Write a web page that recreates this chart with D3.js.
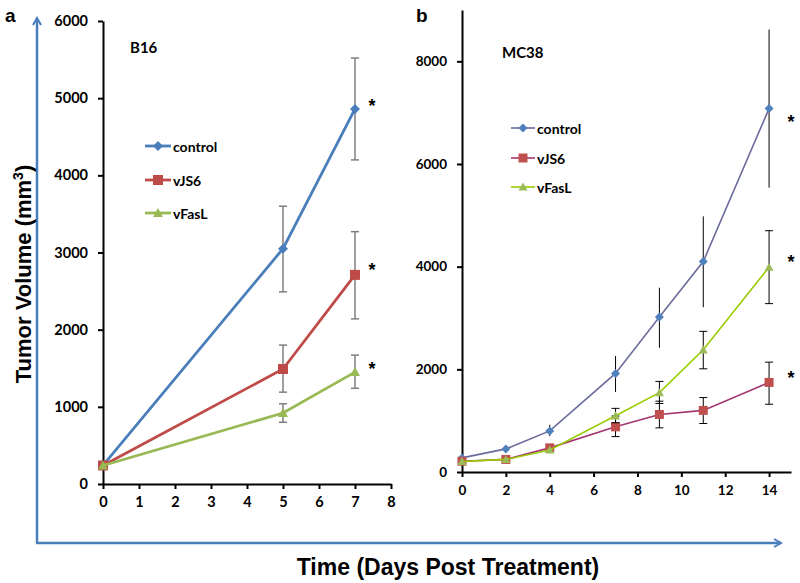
<!DOCTYPE html>
<html>
<head>
<meta charset="utf-8">
<script src="https://cdn.jsdelivr.net/npm/d3@7"></script>
<style>
  body { margin: 0; background: #fff; }
  svg { display: block; }
</style>
</head>
<body>
<svg id="chart"></svg>
<script>
const width = 800;
const height = 583;

const seriesNames = ["control", "vJS6", "vFasL"];

// Panel a: B16
const daysA = [0, 5, 7];
const controlA = [240, 3050, 4860];
const controlAHi = [240, 3600, 5520];
const controlALo = [240, 2490, 4200];
const vjs6A = [240, 1490, 2710];
const vjs6AHi = [240, 1800, 3270];
const vjs6ALo = [240, 1190, 2140];
const vfaslA = [240, 920, 1450];
const vfaslAHi = [240, 1040, 1670];
const vfaslALo = [240, 800, 1240];
const xTicksA = [0, 1, 2, 3, 4, 5, 6, 7, 8];
const yTicksA = [0, 1000, 2000, 3000, 4000, 5000, 6000];

// Panel b: MC38
const daysB = [0, 2, 4, 7, 9, 11, 14];
const controlB = [275, 450, 800, 1920, 3020, 4100, 7080];
const controlBHi = [275, 450, 920, 2260, 3590, 4980, 8620];
const controlBLo = [275, 450, 700, 1560, 2420, 3210, 5540];
const vjs6B = [210, 245, 470, 880, 1120, 1200, 1745];
const vjs6BHi = [210, 245, 470, 1090, 1380, 1450, 2140];
const vjs6BLo = [210, 245, 470, 690, 860, 945, 1320];
const vfaslB = [205, 245, 430, 1095, 1545, 2380, 3990];
const vfaslBHi = [205, 245, 430, 1240, 1765, 2740, 4700];
const vfaslBLo = [205, 245, 430, 960, 1335, 2010, 3280];
const xTicksB = [0, 2, 4, 6, 8, 10, 12, 14];
const yTicksB = [0, 2000, 4000, 6000, 8000];

const tickFont = "Lato, 'Open Sans', sans-serif";
const titleFont = "'Liberation Sans', Arial, sans-serif";

const svg = d3.select("#chart").attr("width", width).attr("height", height);

// blue L-shaped frame with arrows
svg
  .append("defs")
  .append("marker")
  .attr("id", "arrowBlue")
  .attr("viewBox", "0 0 10 10")
  .attr("refX", 8)
  .attr("refY", 5)
  .attr("markerWidth", 4)
  .attr("markerHeight", 4)
  .attr("orient", "auto")
  .append("path")
  .attr("d", "M1,1 L8,5 L1,9")
  .attr("fill", "none")
  .attr("stroke", "#4a7ebb")
  .attr("stroke-width", 2);

svg
  .append("line")
  .attr("x1", 37).attr("y1", 543).attr("x2", 37).attr("y2", 18)
  .attr("stroke", "#4a7ebb")
  .attr("stroke-width", 2.5)
  .attr("marker-end", "url(#arrowBlue)");

svg
  .append("line")
  .attr("x1", 36).attr("y1", 543).attr("x2", 781).attr("y2", 543)
  .attr("stroke", "#4a7ebb")
  .attr("stroke-width", 2.5)
  .attr("marker-end", "url(#arrowBlue)");

// axis titles
svg
  .append("text")
  .attr("transform", "translate(31,274) rotate(-90)")
  .attr("text-anchor", "middle")
  .attr("font-family", titleFont)
  .attr("font-weight", "bold")
  .attr("font-size", "22px")
  .attr("fill", "#000")
  .html("Tumor Volume (mm<tspan baseline-shift='super' font-size='14px'>3</tspan>)");

svg
  .append("text")
  .attr("x", 448)
  .attr("y", 575)
  .attr("text-anchor", "middle")
  .attr("font-family", titleFont)
  .attr("font-weight", "bold")
  .attr("font-size", "23px")
  .attr("fill", "#000")
  .text("Time (Days Post Treatment)");

function markerPath(kind, size) {
  const s = size / 2;
  if (kind === "diamond") return `M0,${-s}L${s},0L0,${s}L${-s},0Z`;
  if (kind === "square") return `M${-s},${-s}H${s}V${s}H${-s}Z`;
  return `M0,${-s}L${s},${s * 0.8}L${-s},${s * 0.8}Z`;
}

function drawPanel(cfg) {
  const g = svg.append("g");
  const x = d3.scaleLinear().domain(cfg.xDomain).range(cfg.xRange);
  const y = d3.scaleLinear().domain(cfg.yDomain).range(cfg.yRange);

  const yAxis = g
    .append("g")
    .attr("transform", `translate(${cfg.xRange[0]},0)`)
    .call(d3.axisLeft(y).tickValues(cfg.yTicks).tickFormat(d3.format("d")).tickSize(5).tickSizeOuter(0).tickPadding(10));
  const xAxis = g
    .append("g")
    .attr("transform", `translate(0,${cfg.yRange[0]})`)
    .call(d3.axisBottom(x).tickValues(cfg.xTicks).tickFormat(d3.format("d")).tickSize(5).tickSizeOuter(0).tickPadding(8));

  [yAxis, xAxis].forEach((ax) => {
    ax.select(".domain").attr("stroke", "#000").attr("stroke-width", 2);
    ax.selectAll(".tick line").attr("stroke", "#000").attr("stroke-width", 2);
    ax.selectAll(".tick text")
      .attr("font-family", tickFont)
      .attr("font-weight", "bold")
      .attr("font-size", cfg.tickSize)
      .attr("fill", "#000");
  });

  const line = d3.line().x((d) => x(d[0])).y((d) => y(d[1]));

  cfg.series.forEach((s) => {
    const pts = cfg.days.map((d, i) => [d, s.values[i], s.hi[i], s.lo[i]]);

    // error bars
    pts.forEach((p) => {
      if (p[2] === p[3]) return;
      g.append("line")
        .attr("x1", x(p[0])).attr("x2", x(p[0]))
        .attr("y1", y(p[2])).attr("y2", y(p[3]))
        .attr("stroke", cfg.errColor).attr("stroke-width", cfg.errWidth);
      if (s.caps) {
        [p[2], p[3]].forEach((v) => {
          g.append("line")
            .attr("x1", x(p[0]) - 4).attr("x2", x(p[0]) + 4)
            .attr("y1", y(v)).attr("y2", y(v))
            .attr("stroke", cfg.errColor).attr("stroke-width", cfg.errWidth);
        });
      }
    });

    g.append("path")
      .datum(pts)
      .attr("d", line)
      .attr("fill", "none")
      .attr("stroke", s.lineColor)
      .attr("stroke-width", cfg.lineWidth);

    g.selectAll(null)
      .data(pts)
      .enter()
      .append("path")
      .attr("transform", (d) => `translate(${x(d[0])},${y(d[1])})`)
      .attr("d", markerPath(s.marker, cfg.markerSize))
      .attr("fill", s.markerColor);
  });

  // asterisks
  cfg.series.forEach((s, i) => {
    g.append("text")
      .attr("x", cfg.starX)
      .attr("y", cfg.starY[i])
      .attr("text-anchor", "middle")
      .attr("font-family", titleFont)
      .attr("font-weight", "bold")
      .attr("font-size", "18px")
      .attr("fill", "#000")
      .text("*");
  });

  // legend
  cfg.series.forEach((s, i) => {
    const ly = cfg.legendY[i];
    g.append("line")
      .attr("x1", cfg.legendX).attr("x2", cfg.legendX + cfg.legendLen)
      .attr("y1", ly).attr("y2", ly)
      .attr("stroke", s.lineColor).attr("stroke-width", cfg.lineWidth);
    g.append("path")
      .attr("transform", `translate(${cfg.legendX + cfg.legendLen / 2},${ly})`)
      .attr("d", markerPath(s.marker, cfg.markerSize))
      .attr("fill", s.markerColor);
    g.append("text")
      .attr("x", cfg.legendX + cfg.legendLen + 2)
      .attr("y", ly)
      .attr("dominant-baseline", "central")
      .attr("font-family", tickFont)
      .attr("font-weight", "bold")
      .attr("font-size", "14px")
      .attr("fill", "#000")
      .text(s.name);
  });

  g.append("text")
    .attr("x", cfg.titleX).attr("y", cfg.titleY)
    .attr("font-family", tickFont)
    .attr("font-weight", "bold")
    .attr("font-size", "15px")
    .attr("fill", "#000")
    .text(cfg.title);

  g.append("text")
    .attr("x", cfg.letterX).attr("y", 22)
    .attr("font-family", titleFont)
    .attr("font-weight", "bold")
    .attr("font-size", "19px")
    .attr("fill", "#000")
    .text(cfg.letter);
}

drawPanel({
  letter: "a",
  letterX: 5,
  title: "B16",
  titleX: 130,
  titleY: 53,
  xDomain: [0, 8],
  xRange: [103, 391],
  yDomain: [0, 6000],
  yRange: [484, 21],
  xTicks: xTicksA,
  yTicks: yTicksA,
  tickSize: "14.5px",
  days: daysA,
  lineWidth: 2.8,
  markerSize: 10,
  errColor: "#7f7f7f",
  errWidth: 1.5,
  starX: 372,
  starY: [112, 276, 375],
  legendX: 145,
  legendLen: 26,
  legendY: [146, 180, 213],
  series: [
    { name: seriesNames[0], values: controlA, hi: controlAHi, lo: controlALo, lineColor: "#4a7ebb", markerColor: "#4a7ebb", marker: "diamond", caps: true },
    { name: seriesNames[1], values: vjs6A, hi: vjs6AHi, lo: vjs6ALo, lineColor: "#be4b48", markerColor: "#be4b48", marker: "square", caps: true },
    { name: seriesNames[2], values: vfaslA, hi: vfaslAHi, lo: vfaslALo, lineColor: "#98b954", markerColor: "#98b954", marker: "triangle", caps: true },
  ],
});

drawPanel({
  letter: "b",
  letterX: 416,
  title: "MC38",
  titleX: 502,
  titleY: 58,
  xDomain: [0, 15],
  xRange: [462, 791],
  yDomain: [0, 9000],
  yRange: [472, 10],
  xTicks: xTicksB,
  yTicks: yTicksB,
  tickSize: "13.5px",
  days: daysB,
  lineWidth: 1.6,
  markerSize: 9,
  errColor: "#000",
  errWidth: 1,
  starX: 791,
  starY: [128, 268, 384],
  legendX: 511,
  legendLen: 24,
  legendY: [128, 158, 187],
  series: [
    { name: seriesNames[0], values: controlB, hi: controlBHi, lo: controlBLo, lineColor: "#6b6b9c", markerColor: "#4f81bd", marker: "diamond", caps: false },
    { name: seriesNames[1], values: vjs6B, hi: vjs6BHi, lo: vjs6BLo, lineColor: "#a33670", markerColor: "#c0504d", marker: "square", caps: true },
    { name: seriesNames[2], values: vfaslB, hi: vfaslBHi, lo: vfaslBLo, lineColor: "#99cc00", markerColor: "#9bbb59", marker: "triangle", caps: true },
  ],
});
</script>
</body>
</html>
